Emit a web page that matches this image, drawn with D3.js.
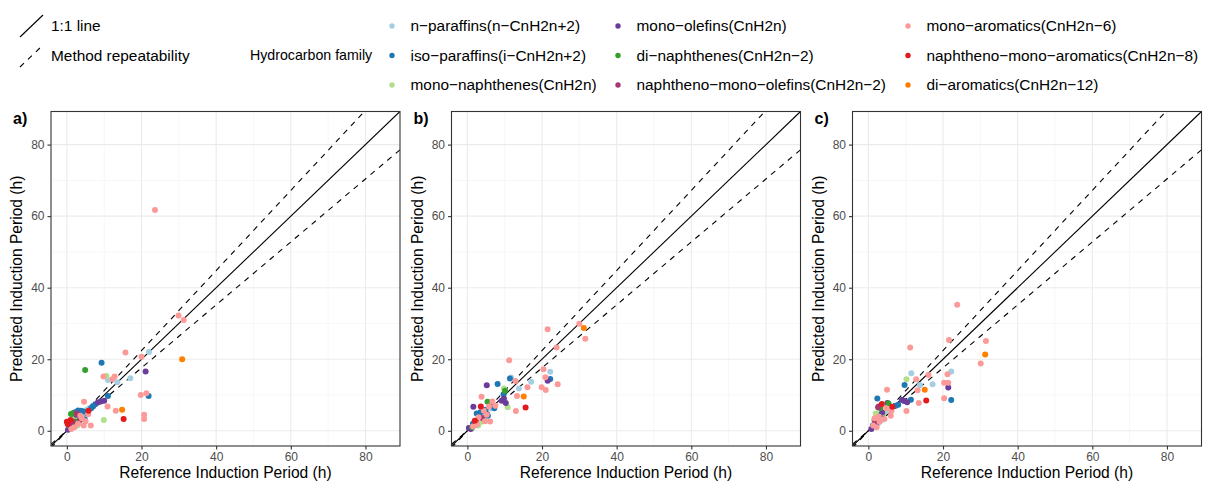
<!DOCTYPE html>
<html>
<head>
<meta charset="utf-8">
<script src="https://cdn.jsdelivr.net/npm/d3@7"></script>
<style>
  html, body { margin: 0; padding: 0; background: #fff; }
  svg { display: block; font-family: "Liberation Sans", Arial, sans-serif; }
</style>
</head>
<body>
<svg id="chart" width="1205" height="482"></svg>
<script>
// Hydrocarbon families and their colours
const families = [
  "n−paraffins(n−CnH2n+2)",
  "iso−paraffins(i−CnH2n+2)",
  "mono−naphthenes(CnH2n)",
  "mono−olefins(CnH2n)",
  "di−naphthenes(CnH2n−2)",
  "naphtheno−mono−olefins(CnH2n−2)",
  "mono−aromatics(CnH2n−6)",
  "naphtheno−mono−aromatics(CnH2n−8)",
  "di−aromatics(CnH2n−12)"
];
const familyColors = ["#A6CEE3", "#1F78B4", "#B2DF8A", "#6A3D9A", "#33A02C",
                      "#A8386F", "#FB9A99", "#E31A1C", "#FF7F00"];

const panelLabels = ["a)", "b)", "c)"];
const axisTicks = [0, 20, 40, 60, 80];
const minorTicks = [10, 30, 50, 70];
const repeatability = 0.12;   // ±12 % band around the 1:1 line

// [family index, reference IP (h), predicted IP (h)]
const panelA = [
  [0,22.0,22.0],[0,11.0,14.2],[0,13.5,13.6],[0,17.0,14.7],[0,5.5,5.7],[0,3.1,3.3],[0,5.4,5.9],[0,6.0,6.3],[0,2.0,2.2],[0,4.0,4.5],
  [1,9.3,19.0],[1,21.9,9.7],[1,11.0,9.7],[1,7.0,6.8],[1,7.6,7.4],[1,3.0,5.7],[1,2.2,5.2],[1,1.8,5.0],[1,3.8,5.6],[1,4.5,5.4],[1,6.5,6.3],[1,4.8,3.2],[1,2.5,3.8],[1,1.0,1.5],
  [2,10.6,15.3],[2,9.9,3.0],[2,2.8,1.5],[2,3.3,2.2],[2,1.0,0.8],[2,2.0,3.5],
  [3,21.1,16.6],[3,9.1,8.2],[3,10.0,8.4],[3,8.3,7.9],[3,0.3,0.3],[3,1.8,1.2],[3,2.5,4.5],[3,1.5,1.8],
  [4,4.9,17.0],[4,1.1,4.7],[4,1.6,4.8],[4,0.8,1.2],[4,2.2,2.6],
  [5,2.6,4.8],[5,1.5,2.5],[5,3.5,3.0],[5,0.6,1.6],
  [6,23.6,61.7],[6,29.9,32.2],[6,31.3,31.0],[6,15.7,21.9],[6,20.0,20.7],[6,9.8,15.2],[6,12.8,15.2],[6,12.2,14.4],[6,19.8,10.0],[6,21.3,10.5],[6,4.6,8.1],[6,10.9,6.8],[6,13.1,5.6],[6,20.7,4.5],[6,20.7,3.3],[6,6.4,1.5],[6,4.5,1.5],[6,5.7,4.6],[6,4.0,3.5],[6,3.0,2.0],[6,2.0,1.0],[6,5.0,2.7],[6,3.6,4.2],[6,1.2,0.5],
  [7,15.2,3.3],[7,0.0,2.5],[7,0.2,1.9],[7,1.0,3.0],[7,5.8,5.6],
  [8,30.9,20.0],[8,14.8,5.9]
];
const panelB = [
  [0,22.2,16.5],[0,17.1,13.7],[0,13.8,11.8],[0,11.7,14.9],[0,6.1,6.2],[0,3.4,3.3],[0,1.8,2.3],[0,4.5,4.0],
  [1,22.2,14.5],[1,11.4,14.6],[1,8.1,13.1],[1,9.7,10.2],[1,4.8,5.9],[1,7.2,6.3],[1,2.5,4.8],[1,3.5,5.2],[1,1.5,2.0],[1,5.5,4.2],
  [2,10.8,6.6],[2,2.9,1.5],[2,9.8,11.8],[2,1.2,0.8],[2,3.8,2.5],
  [3,21.5,14.0],[3,5.2,12.7],[3,9.2,8.4],[3,10.3,7.8],[3,9.8,9.0],[3,1.6,6.7],[3,2.0,1.7],[3,0.9,0.5],[3,0.4,0.8],
  [4,10.1,11.2],[4,5.4,8.1],[4,1.3,1.0],
  [5,2.3,2.6],[5,4.0,3.6],
  [6,21.5,28.4],[6,30.0,29.9],[6,31.6,25.7],[6,23.9,23.3],[6,11.2,19.7],[6,20.4,17.2],[6,20.9,15.0],[6,19.9,12.2],[6,21.0,11.4],[6,24.2,13.0],[6,16.1,12.2],[6,12.9,13.9],[6,13.3,9.7],[6,13.0,5.5],[6,3.8,9.5],[6,6.7,8.2],[6,4.4,5.6],[6,6.1,2.6],[6,5.2,4.5],[6,3.0,3.8],[6,2.6,1.8],[6,4.7,2.7],[6,1.5,1.2],[6,7.5,7.0],[6,5.8,6.8],
  [7,15.6,6.5],[7,3.6,6.8],[7,2.0,2.8],
  [8,31.2,28.7],[8,15.1,9.6]
];
const panelC = [
  [0,11.5,16.1],[0,22.2,16.6],[0,13.8,12.8],[0,17.2,13.0],[0,3.7,3.1],[0,2.5,2.0],[0,5.0,5.5],
  [1,22.2,8.6],[1,9.7,12.8],[1,2.4,9.0],[1,11.4,8.7],[1,8.0,7.3],[1,7.3,7.0],[1,3.0,4.4],[1,1.2,1.5],
  [2,10.2,14.4],[2,3.0,6.2],[2,2.0,4.8],[2,1.5,3.0],[2,4.0,5.0],
  [3,21.4,12.1],[3,9.6,8.3],[3,10.4,8.0],[3,9.0,8.6],[3,5.1,7.8],[3,3.7,5.1],[3,2.1,1.9],[3,0.8,0.5],[3,2.8,6.8],
  [4,5.4,7.6],[4,3.2,6.4],
  [5,2.6,6.6],[5,1.8,2.5],
  [6,23.8,35.2],[6,21.6,25.4],[6,31.5,25.1],[6,30.1,18.8],[6,11.2,23.3],[6,21.2,15.8],[6,16.1,15.6],[6,12.8,14.4],[6,13.2,11.3],[6,20.3,13.4],[6,21.4,13.4],[6,20.3,9.1],[6,13.5,7.8],[6,5.0,11.5],[6,10.2,5.5],[6,6.0,4.2],[6,1.7,3.5],[6,4.3,3.3],[6,3.0,2.5],[6,1.3,1.5],[6,6.2,5.6],[6,4.8,6.3],[6,2.2,1.0],[6,2.8,4.0],
  [7,15.5,8.5],[7,6.4,6.7],[7,3.6,7.5],
  [8,31.3,21.3],[8,15.1,11.5]
];
const panels = [panelA, panelB, panelC];

const svg = d3.select("#chart");
const domain = [-4.25, 89.25];
const panelLefts = [51, 451.5, 852.5];
const panelTop = 111.5, panelW = 349, panelH = 334.5;
const tickColor = "#4D4D4D";

svg.append("defs").append("clipPath").attr("id", "panelClip")
  .append("rect").attr("width", panelW).attr("height", panelH);

panels.forEach((data, p) => {
  const x = d3.scaleLinear().domain(domain).range([0, panelW]);
  const y = d3.scaleLinear().domain(domain).range([panelH, 0]);
  const g = svg.append("g").attr("transform", `translate(${panelLefts[p]},${panelTop})`);

  // grid
  const grid = g.append("g");
  minorTicks.forEach(t => {
    grid.append("line").attr("x1", x(t)).attr("x2", x(t)).attr("y1", 0).attr("y2", panelH)
      .attr("stroke", "#F2F2F2").attr("stroke-width", 0.6);
    grid.append("line").attr("y1", y(t)).attr("y2", y(t)).attr("x1", 0).attr("x2", panelW)
      .attr("stroke", "#F2F2F2").attr("stroke-width", 0.6);
  });
  axisTicks.forEach(t => {
    grid.append("line").attr("x1", x(t)).attr("x2", x(t)).attr("y1", 0).attr("y2", panelH)
      .attr("stroke", "#EBEBEB").attr("stroke-width", 1.1);
    grid.append("line").attr("y1", y(t)).attr("y2", y(t)).attr("x1", 0).attr("x2", panelW)
      .attr("stroke", "#EBEBEB").attr("stroke-width", 1.1);
  });

  // reference lines
  const lines = g.append("g").attr("clip-path", "url(#panelClip)");
  const refLine = slope => [[domain[0], domain[0] * slope], [domain[1] / Math.min(slope, 1) , domain[1] / Math.min(slope, 1) * slope]];
  const lineGen = d3.line().x(d => x(d[0])).y(d => y(d[1]));
  lines.append("path").attr("d", lineGen(refLine(1))).attr("stroke", "#000").attr("stroke-width", 1.1).attr("fill", "none");
  [1 + repeatability, 1 - repeatability].forEach(s => {
    lines.append("path").attr("d", lineGen(refLine(s))).attr("stroke", "#000").attr("stroke-width", 1.1)
      .attr("stroke-dasharray", "5.5,5.5").attr("fill", "none");
  });

  // points
  lines.append("g").selectAll("circle").data(data).join("circle")
    .attr("cx", d => x(d[1])).attr("cy", d => y(d[2])).attr("r", 3)
    .attr("fill", d => familyColors[d[0]]);

  // border
  g.append("rect").attr("width", panelW).attr("height", panelH)
    .attr("fill", "none").attr("stroke", "#333333").attr("stroke-width", 1.1);

  // axes
  const xAxis = g.append("g").attr("transform", `translate(0,${panelH})`)
    .call(d3.axisBottom(x).tickValues(axisTicks).tickSize(3.5).tickPadding(3));
  const yAxis = g.append("g").call(d3.axisLeft(y).tickValues(axisTicks).tickSize(3.5).tickPadding(3));
  [xAxis, yAxis].forEach(a => {
    a.select(".domain").remove();
    a.selectAll(".tick line").attr("stroke", "#333333").attr("stroke-width", 1.1);
    a.selectAll(".tick text").attr("fill", tickColor).attr("font-size", 12)
      .attr("font-family", "Liberation Sans, Arial, sans-serif");
  });

  g.append("text").attr("x", panelW / 2).attr("y", panelH + 32).attr("text-anchor", "middle")
    .attr("font-size", 15.6).attr("fill", "#000").text("Reference Induction Period (h)");
  g.append("text").attr("transform", `translate(-29,${panelH / 2}) rotate(-90)`).attr("text-anchor", "middle")
    .attr("font-size", 15.6).attr("fill", "#000").text("Predicted Induction Period (h)");
  g.append("text").attr("x", -38).attr("y", 12).attr("font-size", 16).attr("font-weight", "bold")
    .attr("fill", "#000").text(panelLabels[p]);
});

// legend: reference lines
const legLines = svg.append("g");
[["1:1 line", null, 26], ["Method repeatability", "5.5,5.5", 56]].forEach(([label, dash, cy]) => {
  legLines.append("line").attr("x1", 20).attr("y1", cy + 11).attr("x2", 43).attr("y2", cy - 11)
    .attr("stroke", "#000").attr("stroke-width", 1.1).attr("stroke-dasharray", dash);
  legLines.append("text").attr("x", 51).attr("y", cy).attr("dy", "0.35em").attr("font-size", 15.4)
    .text(label);
});

// legend: hydrocarbon families
const legFam = svg.append("g");
legFam.append("text").attr("x", 250).attr("y", 55.5).attr("dy", "0.35em").attr("font-size", 14.2)
  .text("Hydrocarbon family");
const colX = [392, 618, 908];
const rowY = [26, 55.5, 85];
families.forEach((f, i) => {
  const c = Math.floor(i / 3), r = i % 3;
  legFam.append("circle").attr("cx", colX[c]).attr("cy", rowY[r]).attr("r", 2.7).attr("fill", familyColors[i]);
  legFam.append("text").attr("x", colX[c] + 18.5).attr("y", rowY[r]).attr("dy", "0.35em").attr("font-size", 15.4)
    .text(f);
});
</script>
</body>
</html>
